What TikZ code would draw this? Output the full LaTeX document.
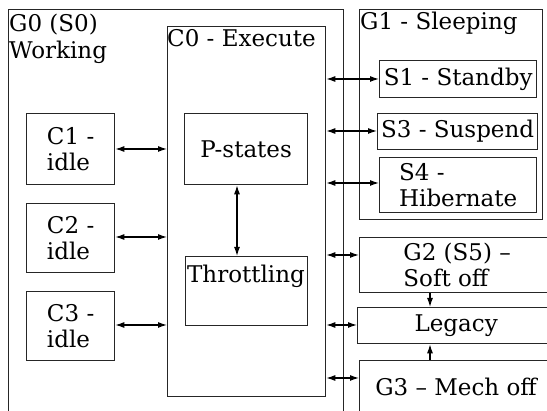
\documentclass[tikz,border=0pt]{standalone}
\usepackage{fontspec}
\setmainfont{DejaVu Serif}
\usetikzlibrary{arrows.meta}
\begin{document}
\begin{tikzpicture}[x=1pt,y=-1pt,
  box/.style={draw=black!85, line width=1.3pt, rectangle, inner sep=0pt, anchor=north west, align=left},
  txt/.style={inner sep=0pt, align=left},
  arr/.style={draw=black, line width=1.2pt, {Latex[length=9pt,width=6pt]}-{Latex[length=9pt,width=6pt]}},
  sarr/.style={draw=black, line width=1.2pt, -{Latex[length=9pt,width=6pt]}},
  font=\fontsize{23}{26.5}\selectfont]
\clip (0,0) rectangle (547,411);
\fill[white] (0,0) rectangle (547,411);
% outer groups
\node[box, minimum width=335pt, minimum height=420pt] (g0) at (8,9) {};
\node[txt, anchor=north west] (g0l) at (9,14) {G0 (S0)\\Working};
\node[box, minimum width=158pt, minimum height=370pt] (c0) at (167,26) {};
\node[txt, anchor=base west] (c0l) at (167,47) {C0 - Execute};
\node[box, minimum width=183pt, minimum height=210pt] (g1) at (359,9) {};
\node[txt, anchor=base west] (g1l) at (360,30) {G1 - Sleeping};
% C-states
\node[box, minimum width=88pt, minimum height=71pt] (c1) at (26,113) {C1 -\\idle};
\node[box, minimum width=88pt, minimum height=69pt] (c2) at (26,203) {C2 -\\idle};
\node[box, minimum width=88pt, minimum height=69pt] (c3) at (26,291) {C3 -\\idle};
% inside C0
\node[box, minimum width=123pt, minimum height=71pt] (ps) at (184,113) {P-states};
\node[box, minimum width=122pt, minimum height=69pt] (th) at (185,256) {};
\node[txt, anchor=base] (thl) at (246,283) {Throttling};
% sleeping
\node[box, minimum width=157pt, minimum height=37pt] (s1) at (379,60) {S1 - Standby};
\node[box, minimum width=160pt, minimum height=36pt] (s3) at (377,113) {S3 - Suspend};
\node[box, minimum width=157pt, minimum height=55pt] (s4) at (379,157) {S4 -\\Hibernate};
% off states
\node[box, minimum width=195pt, minimum height=55pt] (g2) at (359,237) {G2 (S5) –\\Soft off};
\node[box, minimum width=197pt, minimum height=36pt] (lg) at (357,307) {Legacy};
\node[box, minimum width=195pt, minimum height=70pt] (g3) at (359,360) {};
\node[txt, anchor=base] (g3l) at (456,396) {G3 – Mech off};
% connectors
\draw[arr] (c1.east |- 0,149) -- (c0.west |- 0,149);
\draw[arr] (c2.east |- 0,237) -- (c0.west |- 0,237);
\draw[arr] (c3.east |- 0,325) -- (c0.west |- 0,325);
\draw[arr] (ps.south -| 237,0) -- (th.north -| 237,0);
\draw[arr] (c0.east |- 0,79) -- (s1.west |- 0,79);
\draw[arr] (c0.east |- 0,131) -- (s3.west |- 0,131);
\draw[arr] (c0.east |- 0,183) -- (s4.west |- 0,183);
\draw[arr] (c0.east |- 0,255) -- (g2.west |- 0,255);
\draw[arr] (c0.east |- 0,325) -- (lg.west |- 0,325);
\draw[arr] (c0.east |- 0,378) -- (g3.west |- 0,378);
\draw[sarr] (g2.south -| 430,0) -- (lg.north -| 430,0);
\draw[sarr] (g3.north -| 430,0) -- (lg.south -| 430,0);
\end{tikzpicture}
\end{document}
